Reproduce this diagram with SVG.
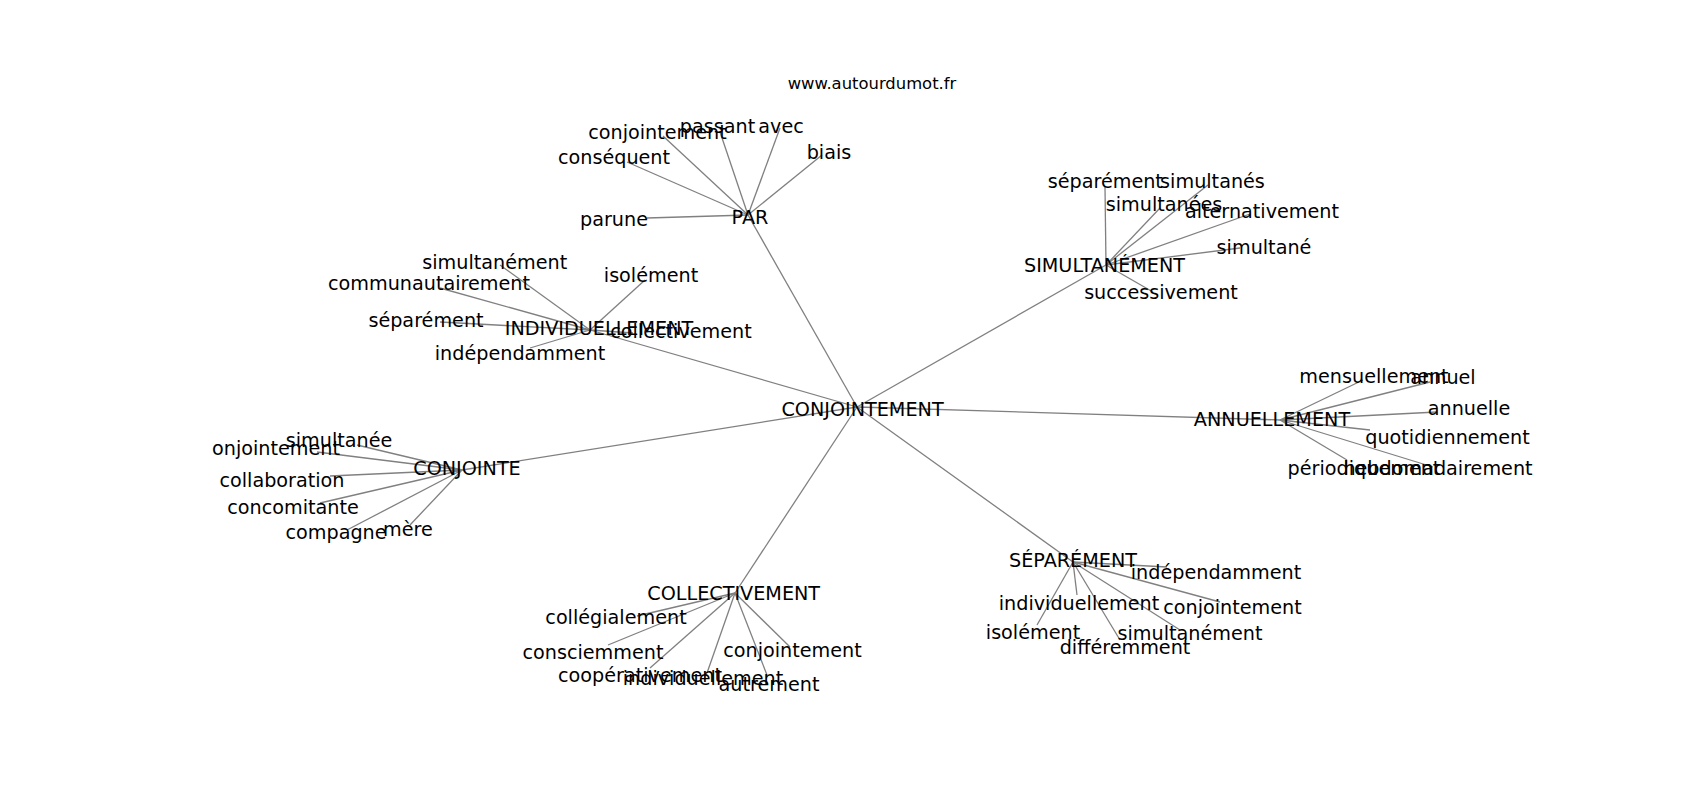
<svg xmlns="http://www.w3.org/2000/svg" width="1700" height="800" viewBox="0 0 1700 800">
<style>
text{font-family:"DejaVu Sans","Liberation Sans",sans-serif;font-size:19.2px;fill:#000;text-anchor:middle}
.title{font-size:16.4px}
#edges line{stroke:#808080;stroke-width:1.3}
</style>
<rect width="1700" height="800" fill="#fff"/>
<g id="edges">
<line x1="857" y1="407" x2="748" y2="215"/>
<line x1="857" y1="407" x2="1106" y2="265"/>
<line x1="857" y1="407" x2="1280" y2="420"/>
<line x1="857" y1="407" x2="1073" y2="562"/>
<line x1="857" y1="407" x2="735" y2="593"/>
<line x1="857" y1="407" x2="462" y2="470"/>
<line x1="857" y1="407" x2="590" y2="330"/>
<line x1="748" y1="215" x2="663" y2="136"/>
<line x1="748" y1="215" x2="720" y2="132"/>
<line x1="748" y1="215" x2="780" y2="128"/>
<line x1="748" y1="215" x2="822" y2="155"/>
<line x1="748" y1="215" x2="627" y2="162"/>
<line x1="748" y1="215" x2="647" y2="218"/>
<line x1="1106" y1="265" x2="1105" y2="187"/>
<line x1="1106" y1="265" x2="1208" y2="185"/>
<line x1="1106" y1="265" x2="1160" y2="208"/>
<line x1="1106" y1="265" x2="1250" y2="214"/>
<line x1="1106" y1="265" x2="1240" y2="248"/>
<line x1="1106" y1="265" x2="1153" y2="292"/>
<line x1="1280" y1="420" x2="1363" y2="380"/>
<line x1="1280" y1="420" x2="1430" y2="382"/>
<line x1="1280" y1="420" x2="1437" y2="412"/>
<line x1="1280" y1="420" x2="1370" y2="430"/>
<line x1="1280" y1="420" x2="1347" y2="460"/>
<line x1="1280" y1="420" x2="1433" y2="467"/>
<line x1="1073" y1="562" x2="1167" y2="567"/>
<line x1="1073" y1="562" x2="1077" y2="595"/>
<line x1="1073" y1="562" x2="1220" y2="602"/>
<line x1="1073" y1="562" x2="1037" y2="625"/>
<line x1="1073" y1="562" x2="1180" y2="630"/>
<line x1="1073" y1="562" x2="1120" y2="640"/>
<line x1="735" y1="593" x2="637" y2="616"/>
<line x1="735" y1="593" x2="608" y2="645"/>
<line x1="735" y1="593" x2="650" y2="668"/>
<line x1="735" y1="593" x2="707" y2="673"/>
<line x1="735" y1="593" x2="767" y2="675"/>
<line x1="735" y1="593" x2="790" y2="647"/>
<line x1="462" y1="470" x2="357" y2="445"/>
<line x1="462" y1="470" x2="317" y2="452"/>
<line x1="462" y1="470" x2="330" y2="476"/>
<line x1="462" y1="470" x2="320" y2="503"/>
<line x1="462" y1="470" x2="347" y2="530"/>
<line x1="462" y1="470" x2="410" y2="525"/>
<line x1="590" y1="330" x2="500" y2="265"/>
<line x1="590" y1="330" x2="440" y2="288"/>
<line x1="590" y1="330" x2="645" y2="280"/>
<line x1="590" y1="330" x2="440" y2="322"/>
<line x1="590" y1="330" x2="633" y2="333"/>
<line x1="590" y1="330" x2="530" y2="348"/>
</g>
<g id="labels" transform="translate(0,2)">
<text class="title" x="872" y="87">www.autourdumot.fr</text>
<g id="n-conjointement"><text x="862.5" y="414">CONJOINTEMENT</text></g>
<g id="n-par"><text x="750" y="222">PAR</text></g>
<g id="n-simultanement"><text x="1104.5" y="270">SIMULTANÉMENT</text></g>
<g id="n-annuellement"><text x="1272" y="424">ANNUELLEMENT</text></g>
<g id="n-separement"><text x="1073" y="565">SÉPARÉMENT</text></g>
<g id="n-collectivement"><text x="733.7" y="598">COLLECTIVEMENT</text></g>
<g id="n-conjointe"><text x="467" y="473">CONJOINTE</text></g>
<g id="n-individuellement"><text x="599" y="333">INDIVIDUELLEMENT</text></g>
<g id="par-conjointement"><text x="657.5" y="137">conjointement</text></g>
<g id="par-passant"><text x="717.5" y="131">passant</text></g>
<g id="par-avec"><text x="781" y="131">avec</text></g>
<g id="par-biais"><text x="829" y="157">biais</text></g>
<g id="par-consequent"><text x="614" y="162">conséquent</text></g>
<g id="par-parune"><text x="614" y="224">parune</text></g>
<g id="sim-separement"><text x="1105.3" y="186">séparément</text></g>
<g id="sim-simultanes"><text x="1212.5" y="186">simultanés</text></g>
<g id="sim-simultanees"><text x="1164" y="209">simultanées</text></g>
<g id="sim-alternativement"><text x="1262" y="216">alternativement</text></g>
<g id="sim-simultane"><text x="1264" y="252">simultané</text></g>
<g id="sim-successivement"><text x="1161" y="297">successivement</text></g>
<g id="ann-mensuellement"><text x="1374" y="381">mensuellement</text></g>
<g id="ann-annuel"><text x="1443" y="382">annuel</text></g>
<g id="ann-annuelle"><text x="1469" y="413">annuelle</text></g>
<g id="ann-quotidiennement"><text x="1447.5" y="442">quotidiennement</text></g>
<g id="ann-periodiquement"><text x="1364" y="473">périodiquement</text></g>
<g id="ann-hebdomadairement"><text x="1438" y="473">hebdomadairement</text></g>
<g id="sep-independamment"><text x="1216" y="577">indépendamment</text></g>
<g id="sep-individuellement"><text x="1079" y="608">individuellement</text></g>
<g id="sep-conjointement"><text x="1232.5" y="612">conjointement</text></g>
<g id="sep-isolement"><text x="1033" y="637">isolément</text></g>
<g id="sep-simultanement"><text x="1190" y="638">simultanément</text></g>
<g id="sep-differemment"><text x="1125" y="652">différemment</text></g>
<g id="col-collegialement"><text x="616" y="622">collégialement</text></g>
<g id="col-consciemment"><text x="593" y="657">consciemment</text></g>
<g id="col-cooperativement"><text x="640" y="680">coopérativement</text></g>
<g id="col-individuellement"><text x="703" y="683">individuellement</text></g>
<g id="col-autrement"><text x="769" y="689">autrement</text></g>
<g id="col-conjointement"><text x="792.5" y="655">conjointement</text></g>
<g id="cje-simultanee"><text x="339" y="445">simultanée</text></g>
<g id="cje-onjointement"><text x="276" y="453">onjointement</text></g>
<g id="cje-collaboration"><text x="282" y="485">collaboration</text></g>
<g id="cje-concomitante"><text x="293" y="512">concomitante</text></g>
<g id="cje-compagne"><text x="336" y="537">compagne</text></g>
<g id="cje-mere"><text x="408" y="534">mère</text></g>
<g id="ind-simultanement"><text x="494.7" y="267">simultanément</text></g>
<g id="ind-communautairement"><text x="429" y="288">communautairement</text></g>
<g id="ind-isolement"><text x="651" y="280">isolément</text></g>
<g id="ind-separement"><text x="426" y="325">séparément</text></g>
<g id="ind-collectivement"><text x="681" y="336">collectivement</text></g>
<g id="ind-independamment"><text x="520" y="358">indépendamment</text></g>
</g>
</svg>
